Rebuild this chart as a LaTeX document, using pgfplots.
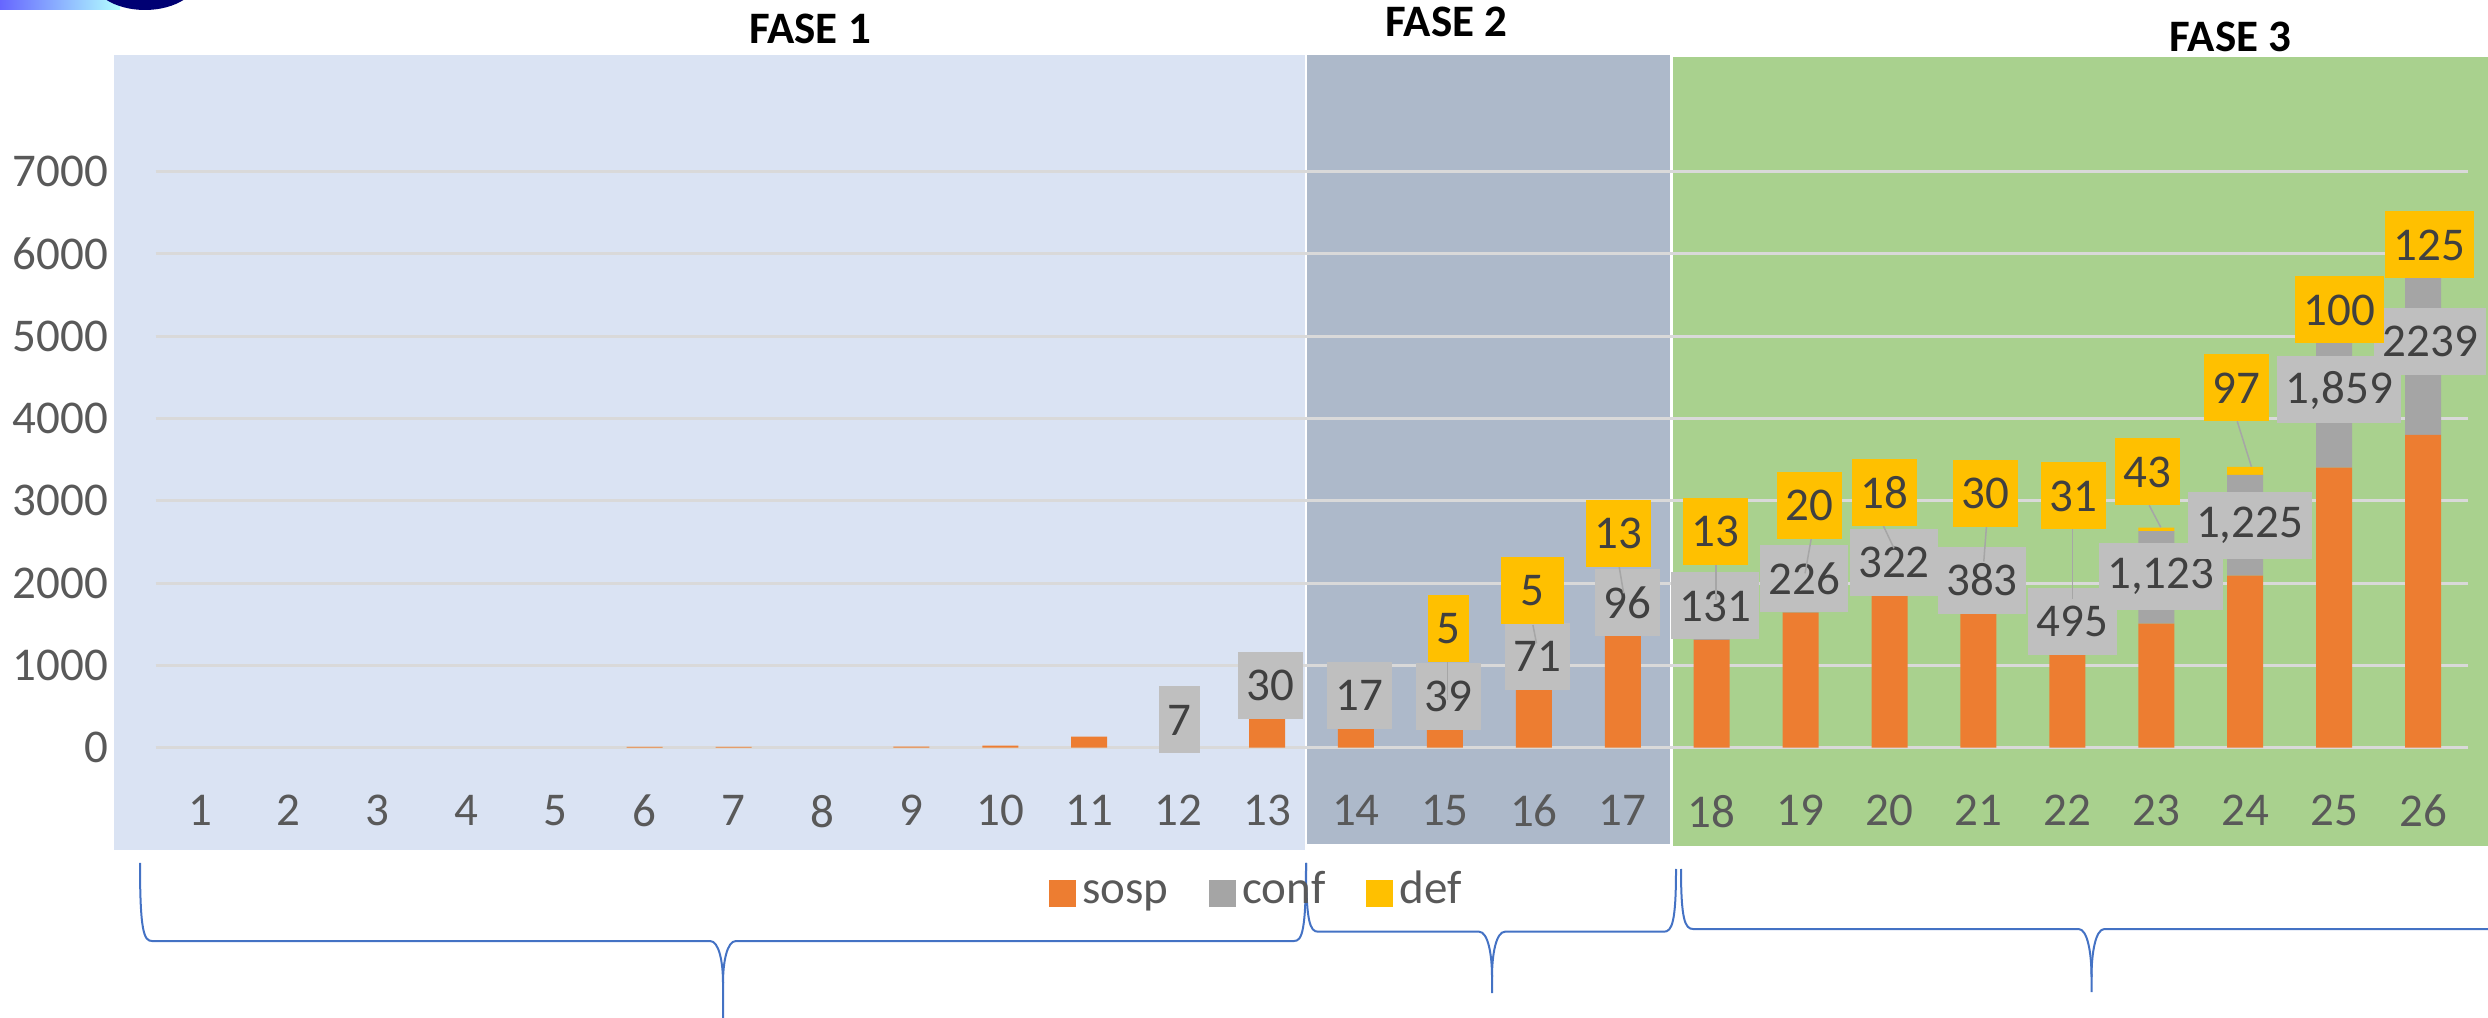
\documentclass[border=0pt]{standalone}
\usepackage{pgfplots}
\usepackage{pgfplotstable}
\pgfplotsset{compat=1.18}
\usepackage{fontspec}
\setmainfont{Carlito}

\definecolor{sospC}{HTML}{ED7D31}
\definecolor{confC}{HTML}{A5A5A5}
\definecolor{defC}{HTML}{FFC000}
\definecolor{labG}{HTML}{BFBFBF}
\definecolor{labT}{HTML}{404040}
\definecolor{tickC}{HTML}{595959}
\definecolor{gridC}{HTML}{D9D9D9}
\definecolor{fase1}{HTML}{DAE3F3}
\definecolor{fase2}{HTML}{ADB9CA}
\definecolor{fase3}{HTML}{A9D18E}
\definecolor{braceC}{HTML}{4472C4}
\definecolor{leadC}{HTML}{A6A6A6}

% days 1..26: suspected, confirmed, deaths
\pgfplotstableread{
n sosp conf def
1 0 0 0
2 0 0 0
3 0 0 0
4 0 0 0
5 0 0 0
6 10 0 0
7 10 0 0
8 0 0 0
9 12 0 0
10 25 0 0
11 135 0 0
12 0 7 0
13 348 30 0
14 227 17 0
15 215 39 5
16 725 71 5
17 1357 96 13
18 1309 131 13
19 1641 226 20
20 1843 322 18
21 1625 383 30
22 1126 495 31
23 1507 1123 43
24 2090 1225 97
25 3402 1859 100
26 3800 2239 125
}\datatable

\begin{document}
\begin{tikzpicture}[
  lab/.style={text=labT, inner xsep=1.7pt, inner ysep=0pt, minimum height=13.4pt,
    font=\fontsize{9.4}{11}\selectfont},
  glab/.style={lab, fill=labG},
  ylab/.style={lab, fill=defC},
  lead/.style={draw=leadC, line width=0.3pt},
]
\useasboundingbox (0,0) rectangle (497.6pt,203.4pt);

\begin{scope}[x=1pt,y=1pt]
  % phase panels
  \fill[fase1] (22.74,33.3) rectangle (260.9,192.4);
  \fill[fase2] (261.4,34.6) rectangle (334.0,192.4);
  \fill[fase3] (334.6,34.2) rectangle (497.6,192.0);
  % bit of the logo
  \fill[left color=blue!60, right color=cyan!30] (0,201.4) rectangle (24,203.4);
  \fill[blue!45!black] (29,208.4) ellipse (11 and 7);
  % phase titles
  \node[font=\bfseries\fontsize{9}{11}\selectfont] at (162,197.6) {FASE 1};
  \node[font=\bfseries\fontsize{9}{11}\selectfont] at (289.3,199.1) {FASE 2};
  \node[font=\bfseries\fontsize{9}{11}\selectfont] at (446.1,196.1) {FASE 3};
  % braces
  \begin{scope}[draw=braceC, line width=0.4pt]
    \draw (28,30.8) .. controls (28,17) and (28.8,15.2) .. (30.4,15.2) -- (142,15.2)
      .. controls (143.8,15.2) and (144.6,11) .. (144.6,6.8) -- (144.6,-1);
    \draw (144.6,6.8) .. controls (144.6,11) and (145.4,15.2) .. (147.2,15.2) -- (258.8,15.2)
      .. controls (260.4,15.2) and (261.2,17) .. (261.2,30.8);
    \draw (261.2,30.8) .. controls (261.2,19) and (262,17.06) .. (263.6,17.06) -- (295.8,17.06)
      .. controls (297.6,17.06) and (298.4,12.5) .. (298.4,8) -- (298.4,4.8);
    \draw (298.4,8) .. controls (298.4,12.5) and (299.2,17.06) .. (301,17.06) -- (332.8,17.06)
      .. controls (334.4,17.06) and (335.2,19) .. (335.2,29.6);
    \draw (336.2,29.6) .. controls (336.2,19.5) and (337,17.6) .. (338.6,17.6) -- (415.7,17.6)
      .. controls (417.5,17.6) and (418.3,12.8) .. (418.3,8) -- (418.3,5);
    \draw (418.3,8) .. controls (418.3,12.8) and (419.1,17.6) .. (420.9,17.6) -- (500,17.6);
  \end{scope}
\end{scope}

\begin{axis}[
  at={(31.1pt,53.86pt)}, anchor=south west,
  scale only axis, width=462.4pt, height=115.24pt,
  xmin=0.5, xmax=26.5, ymin=0, ymax=7000,
  ybar stacked, bar width=7.2pt,
  axis line style={draw=none}, major tick length=0pt,
  xtick={1,...,26}, ytick={0,1000,...,7000},
  ymajorgrids, grid style={line width=0.6pt, color=gridC},
  tick label style={font=\fontsize{9.4}{11}\selectfont, text=tickC},
  /pgf/number format/assume math mode=true,
  /pgf/number format/1000 sep={},
  yticklabel style={anchor=east, inner sep=0pt, xshift=-9.3pt},
  xticklabel style={anchor=north, inner sep=0pt, yshift=-9.3pt},
  clip=false,
  legend image code/.code={\fill[#1] (0pt,-3.0pt) rectangle (5.4pt,2.4pt);},
  legend style={draw=none, fill=none, legend columns=3,
    at={(0.477,-0.2496)}, anchor=center,
    font=\fontsize{9.4}{11}\selectfont, text=tickC,
    nodes={inner sep=1.2pt, text height=6.8pt, text depth=2.2pt},
    /tikz/every even column/.append style={column sep=7pt}},
  after end axis/.code={
    % conf labels
    \node[glab] at (axis cs:12.02,337) {7};
    \node[glab] at (axis cs:13.04,756) {30};
    \node[glab] at (axis cs:14.04,634) {17};
    \node[glab] at (axis cs:15.04,622) {39};
    \node[glab] at (axis cs:16.04,1108) {71};
    \node[glab] at (axis cs:17.05,1764) {96};
    \node[glab] at (axis cs:18.04,1722) {131};
    \node[glab] at (axis cs:19.04,2050) {226};
    \node[glab] at (axis cs:20.05,2250) {322};
    \node[glab] at (axis cs:21.04,2037) {383};
    \node[glab] at (axis cs:22.06,1539) {495};
    \node[glab] at (axis cs:23.05,2080) {1,123};
    \node[glab] at (axis cs:24.05,2700) {1,225};
    \node[glab] at (axis cs:26.08,4930) {2239};
    \node[glab] at (axis cs:25.06,4346) {1,859};
    % leader lines
    \draw[lead] (axis cs:15.03,1045) -- (axis cs:15.03,580);
    \draw[lead] (axis cs:15.99,1491) -- (axis cs:16.03,1268);
    \draw[lead] (axis cs:16.96,2199) -- (axis cs:17.01,1876);
    \draw[lead] (axis cs:18.05,2224) -- (axis cs:18.05,1795);
    \draw[lead] (axis cs:19.12,2540) -- (axis cs:19.05,2119);
    \draw[lead] (axis cs:19.93,2698) -- (axis cs:20.05,2423);
    \draw[lead] (axis cs:21.09,2686) -- (axis cs:21.06,2260);
    \draw[lead] (axis cs:22.06,2653) -- (axis cs:22.06,1807);
    \draw[lead] (axis cs:22.92,2945) -- (axis cs:23.05,2678);
    \draw[lead] (axis cs:23.91,3966) -- (axis cs:24.07,3414);
    % def labels
    \node[ylab] at (axis cs:15.04,1448) {5};
    \node[ylab, minimum width=12.6pt] at (axis cs:15.98,1910) {5};
    \node[ylab] at (axis cs:16.95,2603) {13};
    \node[ylab] at (axis cs:18.04,2627) {13};
    \node[ylab] at (axis cs:19.10,2943) {20};
    \node[ylab] at (axis cs:19.94,3101) {18};
    \node[ylab] at (axis cs:21.08,3089) {30};
    \node[ylab] at (axis cs:22.07,3058) {31};
    \node[ylab] at (axis cs:22.90,3350) {43};
    \node[ylab] at (axis cs:23.90,4371) {97};
    \node[ylab] at (axis cs:25.06,5318) {100};
    \node[ylab] at (axis cs:26.07,6108) {125};
  },
]
  \addplot[fill=sospC, draw=none] table[x=n, y=sosp] {\datatable};
  \addplot[fill=confC, draw=none] table[x=n, y=conf] {\datatable};
  \addplot[fill=defC, draw=none] table[x=n, y=def] {\datatable};
  \legend{sosp, conf, def}
\end{axis}
\end{tikzpicture}
\end{document}
